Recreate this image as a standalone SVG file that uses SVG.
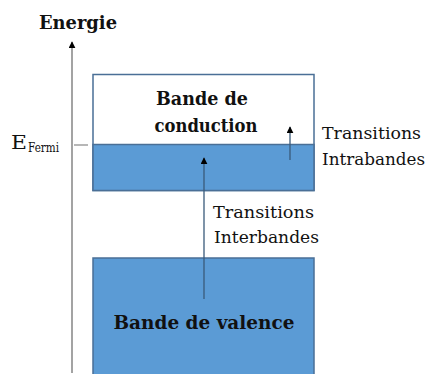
<svg xmlns="http://www.w3.org/2000/svg" width="429" height="374" viewBox="0 0 429 374">
<defs>
<style>
text{font-family:'DejaVu Serif','Liberation Serif',serif;fill:#111;}
.b{font-weight:bold;}
.lb{font-size:16.5px;}
.band{fill:#5b9bd5;stroke:#4a6f96;stroke-width:1.5;}
.ln{stroke:#666;stroke-width:1.2;fill:none;}
.ar{stroke:#3a5a7a;stroke-width:1.3;fill:none;}
</style>
<marker id="ah" viewBox="0 0 10 10" refX="9" refY="5" markerWidth="7" markerHeight="7" markerUnits="userSpaceOnUse" orient="auto">
<path d="M0,0 L10,5 L0,10 z" fill="#000"/>
</marker>
</defs>
<rect width="429" height="374" fill="#fff"/>
<g id="axis">
<line class="ln" x1="72" y1="373" x2="72" y2="42" marker-end="url(#ah)"/>
<text class="b" x="39" y="29" font-size="18" textLength="78" lengthAdjust="spacingAndGlyphs">Energie</text>
</g>
<g id="fermi">
<line x1="74" y1="145" x2="88" y2="145" stroke="#888" stroke-width="1.2"/>
<text x="11" y="149" font-size="19" textLength="16" lengthAdjust="spacingAndGlyphs">E</text>
<text x="28" y="152" font-size="13" textLength="31" lengthAdjust="spacingAndGlyphs">Fermi</text>
</g>
<g id="conduction">
<rect x="93" y="74.5" width="221" height="116" fill="#fff" stroke="#4a6f96" stroke-width="1.5"/>
<rect x="93" y="144.5" width="221" height="46" fill="#5b9bd5" stroke="#4a6f96" stroke-width="1.5"/>
<text class="b" x="202" y="105" font-size="19" text-anchor="middle" textLength="92" lengthAdjust="spacingAndGlyphs">Bande de</text>
<text class="b" x="206" y="132" font-size="19" text-anchor="middle" textLength="103" lengthAdjust="spacingAndGlyphs">conduction</text>
</g>
<g id="valence">
<rect class="band" x="93" y="258" width="221" height="120"/>
<text class="b" x="204" y="329" font-size="19" text-anchor="middle" textLength="181" lengthAdjust="spacingAndGlyphs">Bande de valence</text>
</g>
<g id="connectors">
<line class="ar" x1="204" y1="299" x2="204" y2="158" marker-end="url(#ah)"/>
<line class="ar" x1="290" y1="160" x2="290" y2="127" marker-end="url(#ah)"/>
</g>
<g id="labels">
<text class="lb" x="322" y="139" textLength="99" lengthAdjust="spacingAndGlyphs">Transitions</text>
<text class="lb" x="322" y="165" textLength="103" lengthAdjust="spacingAndGlyphs">Intrabandes</text>
<text class="lb" x="213" y="218" textLength="101" lengthAdjust="spacingAndGlyphs">Transitions</text>
<text class="lb" x="214" y="243" textLength="105" lengthAdjust="spacingAndGlyphs">Interbandes</text>
</g>
</svg>
